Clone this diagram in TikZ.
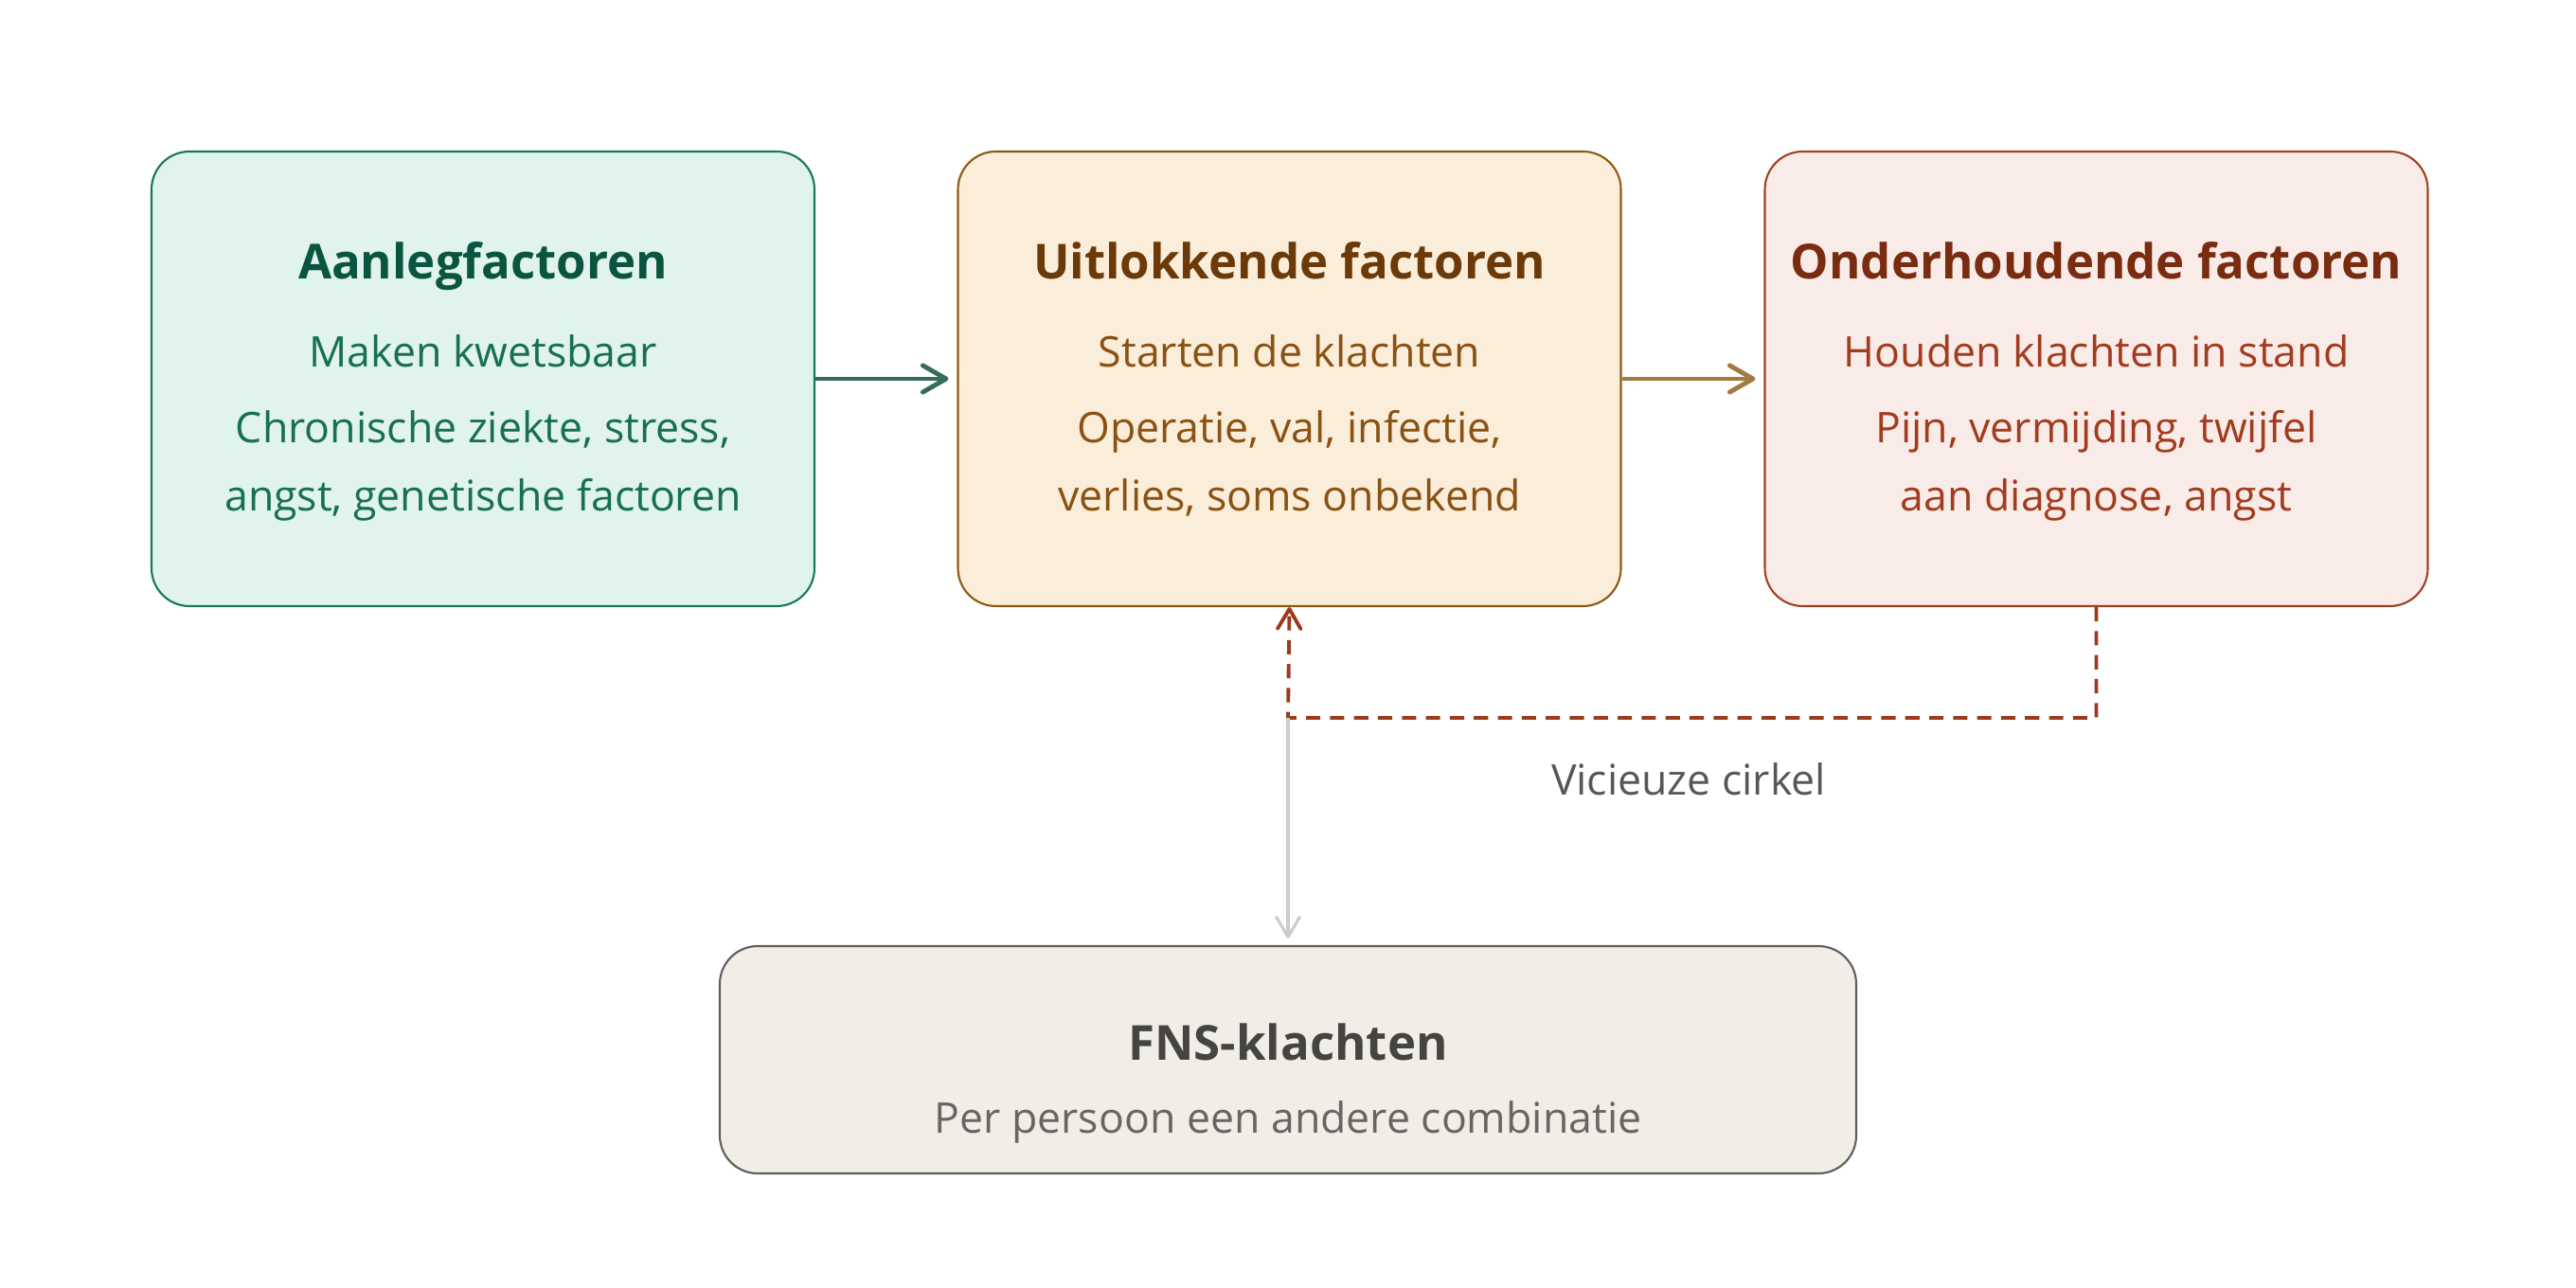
\documentclass[tikz,border=0pt]{standalone}
\usepackage{fontspec}
\setmainfont{Open Sans}
\usetikzlibrary{arrows.meta,positioning}
\definecolor{aanFill}{HTML}{E0F3EC}
\definecolor{aanDraw}{HTML}{17785A}
\definecolor{aanHead}{HTML}{0A5540}
\definecolor{aanText}{HTML}{17704F}
\definecolor{uitFill}{HTML}{FAEDDA}
\definecolor{uitDraw}{HTML}{8B5A14}
\definecolor{uitHead}{HTML}{6B3A08}
\definecolor{uitText}{HTML}{8A5212}
\definecolor{ondFill}{HTML}{F9ECE8}
\definecolor{ondDraw}{HTML}{A0401F}
\definecolor{ondHead}{HTML}{7A2C10}
\definecolor{ondText}{HTML}{A23C1E}
\definecolor{fnsFill}{HTML}{F1EEE8}
\definecolor{fnsDraw}{HTML}{5F5E5A}
\definecolor{fnsHead}{HTML}{444441}
\definecolor{fnsText}{HTML}{666663}
\definecolor{loopLine}{HTML}{9C3A1E}
\tikzset{
  box/.style={rounded corners=0.4cm,line width=0.6pt,minimum width=7cm,minimum height=4.8cm},
  head/.style={anchor=base,font=\fontsize{14.5}{17}\selectfont\bfseries},
  txt/.style={anchor=base,font=\fontsize{12.7}{15}\selectfont},
  flow/.style={line width=1.4pt,-{Straight Barb[length=7pt,width=8pt,round]},shorten >=0.09cm}
}
\begin{document}
\begin{tikzpicture}
  \useasboundingbox (0,0) rectangle (27.2,13.6);
  % drie factoren
  \node[box,draw=aanDraw,fill=aanFill] (aanleg) at (5.1,9.6) {};
  \node[box,draw=uitDraw,fill=uitFill] (uitlok) at (13.615,9.6) {};
  \node[box,draw=ondDraw,fill=ondFill] (onder) at (22.135,9.6) {};
  \node[head,text=aanHead] (aanlegT) at (5.1,10.65) {Aanlegfactoren};
  \node[txt,text=aanText] (aanlegA) at (5.1,9.72) {Maken kwetsbaar};
  \node[txt,text=aanText] (aanlegB) at (5.1,8.92) {Chronische ziekte, stress,};
  \node[txt,text=aanText] (aanlegC) at (5.1,8.2) {angst, genetische factoren};
  \node[head,text=uitHead] (uitlokT) at (13.615,10.65) {Uitlokkende factoren};
  \node[txt,text=uitText] (uitlokA) at (13.615,9.72) {Starten de klachten};
  \node[txt,text=uitText] (uitlokB) at (13.615,8.92) {Operatie, val, infectie,};
  \node[txt,text=uitText] (uitlokC) at (13.615,8.2) {verlies, soms onbekend};
  \node[head,text=ondHead] (onderT) at (22.135,10.65) {Onderhoudende factoren};
  \node[txt,text=ondText] (onderA) at (22.135,9.72) {Houden klachten in stand};
  \node[txt,text=ondText] (onderB) at (22.135,8.92) {Pijn, vermijding, twijfel};
  \node[txt,text=ondText] (onderC) at (22.135,8.2) {aan diagnose, angst};
  \draw[flow,draw=aanDraw!60!fnsDraw] (aanleg.east) -- (uitlok.west);
  \draw[flow,draw=uitDraw!80!white] (uitlok.east) -- (onder.west);
  % vicieuze cirkel
  \coordinate (knik) at (13.6,6.02);
  \draw[loopLine,line width=1.1pt,dash pattern=on 4.3pt off 2.9pt,-{Straight Barb[length=6pt,width=7pt,round]}]
    (onder.south) |- (knik) -- (uitlok.south);
  \node[txt,text=fnsHead!90!white] (cirkel) at (17.83,5.2) {Vicieuze cirkel};
  % FNS-klachten
  \node[box,draw=fnsDraw,fill=fnsFill,minimum width=12cm,minimum height=2.4cm] (fns) at (13.6,2.41) {};
  \node[head,text=fnsHead] (fnsT) at (13.6,2.4) {FNS-klachten};
  \node[txt,text=fnsText] (fnsA) at (13.6,1.63) {Per persoon een andere combinatie};
  \draw[line width=0.9pt,draw=black!20,-{Straight Barb[length=6pt,width=7pt,round]},shorten >=0.07cm] (knik) -- (fns.north);
\end{tikzpicture}
\end{document}
